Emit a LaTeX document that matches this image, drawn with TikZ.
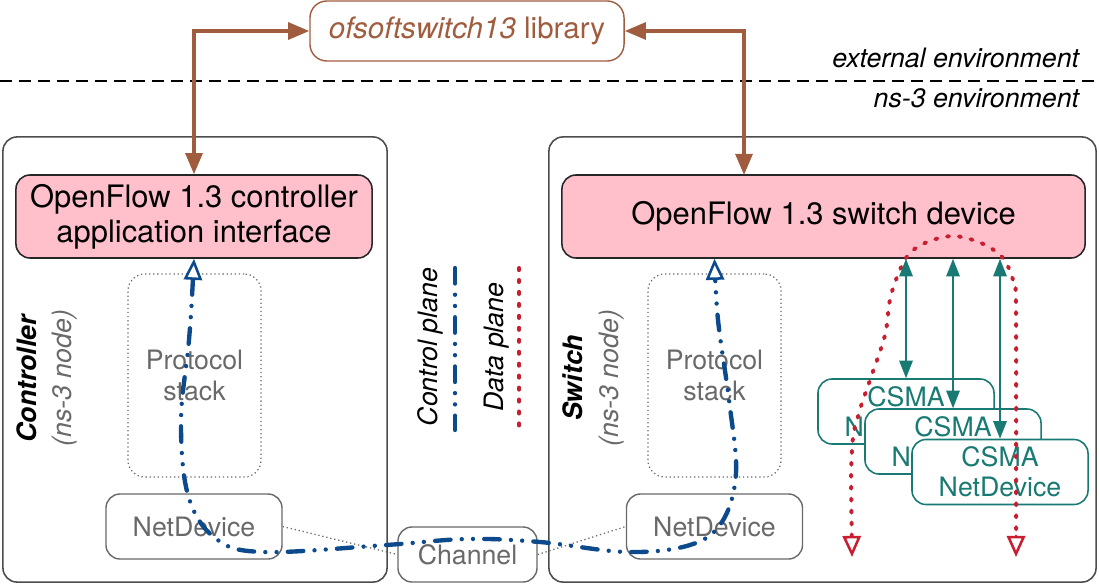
\documentclass[tikz,border=0pt]{standalone}
\usepackage{fontspec}
\setmainfont{TeX Gyre Heros}
\usetikzlibrary{arrows.meta}
\definecolor{libbrown}{RGB}{160,92,62}
\definecolor{apppink}{RGB}{255,192,203}
\definecolor{csmateal}{RGB}{24,122,114}
\definecolor{ctrlblue}{RGB}{12,74,140}
\definecolor{datared}{RGB}{200,30,48}
\definecolor{softgray}{RGB}{105,105,105}

\begin{document}
\begin{tikzpicture}[x=0.025cm,y=0.025cm,
	bigfont/.style={font=\fontsize{22}{25}\selectfont},
	midfont/.style={font=\fontsize{19}{21.5}\selectfont},
	nsnode/.style={draw=black!70,line width=1.1pt,rounded corners=10pt,minimum width=#1,minimum height=11.125cm,inner sep=0pt},
	ofbox/.style={draw=black!85,fill=apppink,line width=1.1pt,rounded corners=10pt,minimum width=#1,minimum height=2.075cm,inner sep=0pt,align=center,bigfont},
	stackbox/.style={draw=softgray,dotted,line width=0.9pt,rounded corners=12pt,minimum width=3.325cm,minimum height=5.075cm,inner sep=0pt,align=center,text=softgray,midfont},
	devbox/.style={draw=softgray,line width=1pt,rounded corners=10pt,minimum width=4.4cm,minimum height=1.625cm,inner sep=0pt,text=softgray,midfont},
	csmabox/.style={draw=csmateal,fill=white,line width=1.1pt,rounded corners=10pt,minimum width=4.4cm,minimum height=1.625cm,inner sep=0pt,align=center,text=csmateal,font=\fontsize{19}{21.3}\selectfont},
	libarrow/.style={draw=libbrown,line width=2.4pt,{Triangle[length=15pt,width=12pt]}-{Triangle[length=15pt,width=12pt]}},
	portlink/.style={draw=csmateal,line width=1.3pt,{Triangle[length=12.5pt,width=9.5pt]}-{Triangle[length=12.5pt,width=9.5pt]}},
	ctrlplane/.style={draw=ctrlblue,line width=3.1pt,line cap=round,dash pattern=on 11pt off 8pt on 0pt off 8pt on 0pt off 8pt},
	dataplane/.style={draw=datared,line width=2.8pt,line cap=round,dash pattern=on 1.5pt off 7pt},
	ctrltip/.style={{Triangle[length=15pt,width=13pt,line width=1.8pt,fill=white]}-{Triangle[length=15pt,width=13pt,line width=1.8pt,fill=white]}},
	wire/.style={draw=softgray,dotted,line width=0.9pt}]
	\useasboundingbox (0,0) rectangle (1099,-585);

	\node [draw=libbrown,line width=1pt,rounded corners=12pt,minimum width=7.85cm,minimum height=1.5cm,inner sep=0pt,text=libbrown,font=\fontsize{21}{24}\selectfont] (lib) at (467,-31) {\textit{ofsoftswitch13} library};
	\draw [dash pattern=on 8.5pt off 5pt,line width=0.9pt] (0,-81) -- (1099,-81);
	\node [anchor=east,midfont] (extenv) at (1085,-58) {\textit{external environment}};
	\node [anchor=east,midfont] (nsenv) at (1085,-98) {\textit{ns-3 environment}};

	\node [nsnode=9.6cm] (ctrl) at (195,-359.5) {};
	\node [nsnode=13.675cm] (sw) at (822.5,-359.5) {};

	\begin{scope}[every node/.style={midfont}]
	\node [rotate=90,align=center,font=\fontsize{19}{25}\selectfont] (ctrllbl) at (47,-378) {\textbf{\textit{Controller}}\\\textcolor{softgray}{\textit{(ns-3 node)}}};
	\node [rotate=90,align=center,font=\fontsize{19}{25}\selectfont] (swlbl) at (593.5,-378) {\textbf{\textit{Switch}}\\\textcolor{softgray}{\textit{(ns-3 node)}}};
	\node [rotate=90] (ctrlleg) at (430,-347) {\textit{Control plane}};
	\node [rotate=90] (dataleg) at (497,-347) {\textit{Data plane}};
	\end{scope}
	\draw [ctrlplane] (455,-268) -- (455,-430);
	\draw [dataplane] (519,-268) -- (519,-430);

	\node [ofbox=8.9cm] (ctrlapp) at (194,-216.5) {OpenFlow 1.3 controller\\application interface};
	\node [ofbox=13.075cm] (swdev) at (823.5,-216.5) {OpenFlow 1.3 switch device};

	\node [stackbox] (ctrlstack) at (194.5,-375.5) {Protocol\\stack};
	\node [stackbox] (swstack) at (714.5,-375.5) {Protocol\\stack};
	\node [devbox] (ctrlnd) at (194,-526.5) {NetDevice};
	\node [devbox] (swnd) at (714.5,-526.5) {NetDevice};
	\node [devbox,minimum width=3.475cm,minimum height=1.375cm] (channel) at (467.5,-554.5) {Channel};
	\draw [wire] (ctrlnd.east) -- (channel.west);
	\draw [wire] (channel.east) -- (swnd.west);

	\node [csmabox] (csma1) at (906,-411.5) {CSMA\\NetDevice};
	\node [csmabox] (csma2) at (953,-441.5) {CSMA\\NetDevice};
	\node [csmabox] (csma3) at (1000,-472) {CSMA\\NetDevice};

	\coordinate (swlib) at (744,-175);
	\draw [libarrow] (ctrlapp.north) |- (lib.west);
	\draw [libarrow] (lib.east) -| (swlib);

	\coordinate (dpin) at (852,-557);
	\coordinate (dpout) at (1016,-557);
	\draw [dataplane,ctrltip,draw=datared] plot [smooth,tension=0.55] coordinates {(dpin) (852,-450) (859,-413) (870,-380) (885,-335) (891,-295) (906,-258) (925,-243) (953,-236) (981,-243) (1002,-257) (1013,-280) (1016,-310) (dpout)};

	\foreach \n in {1,2,3}
		\draw [portlink] (csma\n.north |- swdev.south) -- (csma\n.north);

	\coordinate (ctlend) at (swstack.north |- swdev.south);
	\draw [ctrlplane,ctrltip] plot [smooth,tension=0.6] coordinates {(ctrlapp.south) (189,-340) (181,-420) (188,-495) (215,-538) (263,-552) (386,-545) (467,-539) (540,-542) (627,-552) (690,-545) (722,-522) (736,-473) (729,-400) (718,-320) (ctlend)};
\end{tikzpicture}
\end{document}
